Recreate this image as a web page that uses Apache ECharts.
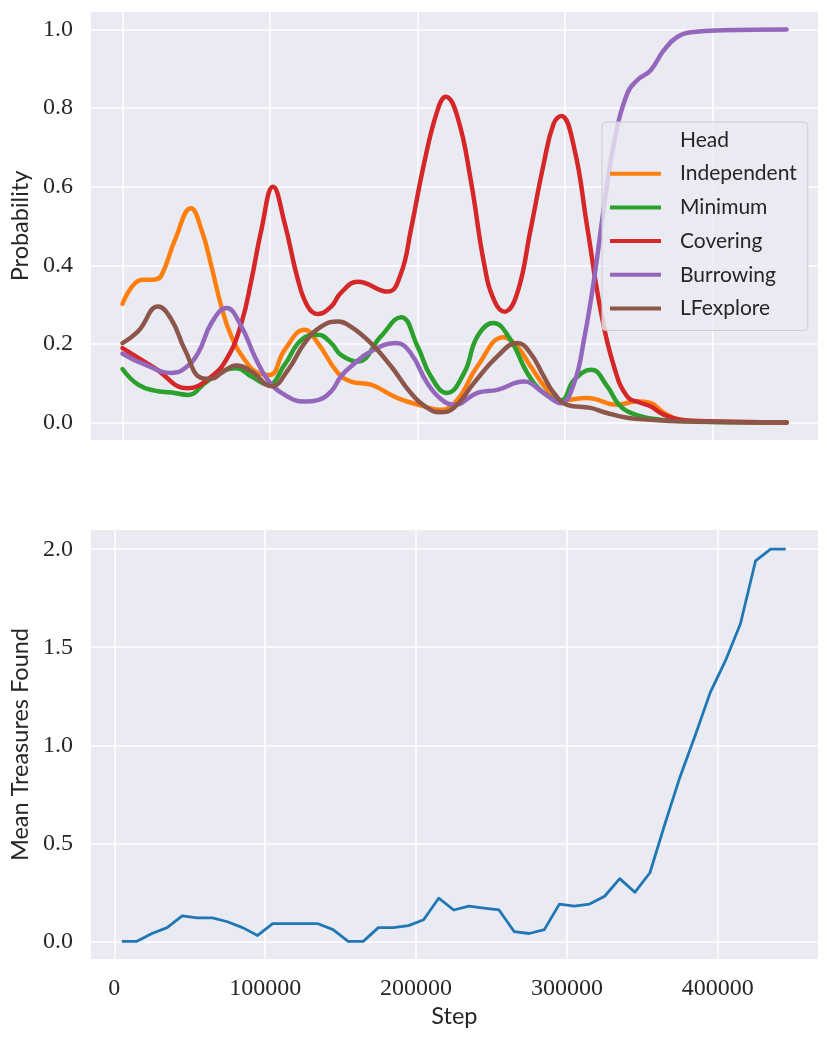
<!DOCTYPE html>
<html>
<head>
<meta charset="utf-8">
<script src="https://cdn.jsdelivr.net/npm/echarts@6/dist/echarts.min.js"></script>
<style>
html, body { margin: 0; padding: 0; background: #fff; }
#chart { width: 830px; height: 1040px; }
</style>
</head>
<body>
<div id="chart"></div>
<script>
// top panel: probability of each head over training steps
var heads = ['Independent', 'Minimum', 'Covering', 'Burrowing', 'LFexplore'];
var head_colors = ['#ff7f0e', '#2ca02c', '#d62728', '#9467bd', '#8c564b'];

var indep_x = [0, 13000, 22000, 26500, 35500, 46400, 53600, 60300, 67000, 73800, 82900, 91900, 99800, 109900, 123400, 132400, 146000, 155000, 168500, 186500, 204400, 215700, 227000, 240500, 258400, 267500, 276500, 287700, 297000, 314900, 335200, 348700, 357800, 366800, 378000, 396000, 450000];
var indep_y = [0.302, 0.363, 0.364, 0.375, 0.464, 0.545, 0.49, 0.397, 0.295, 0.219, 0.159, 0.126, 0.121, 0.185, 0.236, 0.202, 0.126, 0.104, 0.096, 0.062, 0.041, 0.032, 0.058, 0.143, 0.217, 0.193, 0.143, 0.084, 0.056, 0.062, 0.045, 0.054, 0.05, 0.025, 0.007, 0.002, 0];

var minim_x = [0, 10600, 22000, 33300, 44600, 55800, 67000, 77200, 87400, 98600, 109900, 121200, 132400, 141400, 148000, 159400, 175100, 188700, 200000, 209000, 219800, 231500, 240500, 251300, 263000, 274300, 285500, 297000, 306000, 317700, 328500, 337500, 351000, 364500, 380000, 400000, 450000];
var minim_y = [0.136, 0.096, 0.081, 0.076, 0.07, 0.1, 0.13, 0.138, 0.117, 0.096, 0.147, 0.21, 0.223, 0.202, 0.172, 0.155, 0.219, 0.268, 0.193, 0.117, 0.075, 0.126, 0.219, 0.253, 0.21, 0.126, 0.075, 0.056, 0.108, 0.134, 0.092, 0.041, 0.016, 0.007, 0.003, 0.001, 0];

var cover_x = [0, 22000, 44000, 60300, 71600, 80600, 87400, 94100, 102000, 109900, 118900, 125600, 132400, 141400, 148000, 159400, 179700, 188700, 195400, 204400, 213500, 219100, 227000, 236000, 245000, 251700, 258900, 267500, 276500, 285500, 292200, 297300, 305900, 314900, 324000, 333000, 342000, 351000, 357800, 366800, 378000, 396000, 450000];
var cover_y = [0.189, 0.138, 0.087, 0.117, 0.168, 0.253, 0.363, 0.49, 0.6, 0.507, 0.363, 0.295, 0.276, 0.295, 0.33, 0.358, 0.333, 0.379, 0.49, 0.66, 0.795, 0.829, 0.778, 0.617, 0.405, 0.312, 0.282, 0.329, 0.49, 0.66, 0.761, 0.78, 0.702, 0.498, 0.286, 0.143, 0.066, 0.05, 0.041, 0.02, 0.007, 0.003, 0];

var burrow_x = [0, 15300, 33300, 42300, 51300, 60300, 70500, 80600, 89600, 98600, 109900, 123400, 132400, 141400, 148000, 155000, 168500, 185400, 195400, 206600, 217900, 224600, 240500, 254000, 272000, 285500, 297000, 306000, 312700, 319500, 326300, 333000, 342000, 348800, 357800, 366800, 375900, 387100, 407400, 450000];
var burrow_y = [0.175, 0.147, 0.126, 0.138, 0.177, 0.253, 0.291, 0.244, 0.168, 0.108, 0.07, 0.053, 0.057, 0.079, 0.117, 0.143, 0.181, 0.202, 0.176, 0.1, 0.053, 0.045, 0.075, 0.083, 0.104, 0.075, 0.049, 0.1, 0.21, 0.363, 0.549, 0.71, 0.837, 0.871, 0.896, 0.947, 0.981, 0.994, 0.998, 1.0];

var lfexp_x = [0, 10600, 24100, 33300, 42300, 53600, 60300, 67000, 77200, 87400, 101000, 112200, 123400, 134600, 146000, 155000, 168500, 182000, 195400, 206600, 215200, 224600, 238100, 254000, 267500, 276500, 285500, 292300, 301300, 317100, 328300, 342000, 357800, 378000, 450000];
var lfexp_y = [0.202, 0.232, 0.295, 0.261, 0.185, 0.113, 0.111, 0.126, 0.145, 0.13, 0.092, 0.134, 0.202, 0.244, 0.257, 0.243, 0.201, 0.143, 0.075, 0.037, 0.026, 0.037, 0.1, 0.168, 0.202, 0.176, 0.117, 0.075, 0.045, 0.037, 0.024, 0.012, 0.007, 0.003, 0];

// bottom panel: mean treasures found
var steps = [5000, 15000, 25000, 35000, 45000, 55000, 65000, 75000, 85000, 95000,
	105000, 115000, 125000, 135000, 145000, 155000, 165000, 175000, 185000, 195000,
	205000, 215000, 225000, 235000, 245000, 255000, 265000, 275000, 285000, 295000,
	305000, 315000, 325000, 335000, 345000, 355000, 365000, 375000, 385000, 395000,
	405000, 415000, 425000, 435000, 445000];
var treasures = [0, 0, 0.04, 0.07, 0.13, 0.12, 0.12, 0.10, 0.07, 0.03,
	0.09, 0.09, 0.09, 0.09, 0.06, 0, 0, 0.07, 0.07, 0.08,
	0.11, 0.22, 0.16, 0.18, 0.17, 0.16, 0.05, 0.04, 0.06, 0.19,
	0.18, 0.19, 0.23, 0.32, 0.25, 0.35, 0.60, 0.84, 1.05, 1.27,
	1.43, 1.62, 1.94, 2.0, 2.0];

var x_ticks = [0, 100000, 200000, 300000, 400000];
var prob_ticks = [0, 0.2, 0.4, 0.6, 0.8, 1.0];
var treasure_ticks = [0, 0.5, 1.0, 1.5, 2.0];

var serif = "'Liberation Serif', 'DejaVu Serif', serif";
var sans = "Lato, 'Noto Sans', sans-serif";
var ink = '#262626';

function pairs(xs, ys) {
	var out = [];
	for (var i = 0; i < xs.length; i++) out.push([xs[i], ys[i]]);
	return out;
}

function x_axis(grid, min, max, show_labels, name) {
	return {
		type: 'value', gridIndex: grid, min: min, max: max,
		axisLine: {show: false},
		axisTick: {show: false, customValues: x_ticks},
		axisLabel: {show: show_labels, customValues: x_ticks, color: ink, fontFamily: serif, fontSize: 24, margin: 18,
			formatter: function (v) { return String(v); }},
		splitLine: {show: true, lineStyle: {color: '#ffffff', width: 1.5}},
		name: name, nameLocation: 'middle', nameGap: 45,
		nameTextStyle: {color: ink, fontFamily: sans, fontSize: 23.5}
	};
}

function y_axis(grid, min, max, ticks, name) {
	return {
		type: 'value', gridIndex: grid, min: min, max: max,
		axisLine: {show: false},
		axisTick: {show: false, customValues: ticks},
		axisLabel: {customValues: ticks, color: ink, fontFamily: serif, fontSize: 24, margin: 18,
			formatter: function (v) { return v.toFixed(1); }},
		splitLine: {show: true, lineStyle: {color: '#ffffff', width: 1.5}},
		name: name, nameLocation: 'middle', nameGap: 57,
		nameTextStyle: {color: ink, fontFamily: sans, fontSize: 23.5}
	};
}

var head_data = [indep_x, minim_x, cover_x, burrow_x, lfexp_x];
var head_vals = [indep_y, minim_y, cover_y, burrow_y, lfexp_y];

var series = [{
	name: 'Head', type: 'line', xAxisIndex: 0, yAxisIndex: 0, data: [],
	itemStyle: {color: 'rgba(0,0,0,0)'}, lineStyle: {color: 'rgba(0,0,0,0)'}
}];
for (var k = 0; k < heads.length; k++) {
	series.push({
		name: heads[k], type: 'line', xAxisIndex: 0, yAxisIndex: 0,
		data: pairs(head_data[k], head_vals[k]),
		smooth: 0.45, symbol: 'none', silent: true,
		itemStyle: {color: head_colors[k]},
		lineStyle: {color: head_colors[k], width: 4.5, cap: 'round', join: 'round'}
	});
}
series.push({
	name: 'treasures', type: 'line', xAxisIndex: 1, yAxisIndex: 1,
	data: pairs(steps, treasures), symbol: 'none', silent: true,
	lineStyle: {color: '#1f77b4', width: 2.8, join: 'round'}
});

var legend_data = [{name: 'Head', itemStyle: {color: 'rgba(0,0,0,0)'}}].concat(heads);

var myChart = echarts.init(document.getElementById('chart'), null, {renderer: 'canvas'});
myChart.setOption({
	animation: false,
	backgroundColor: '#ffffff',
	grid: [
		{left: 89, right: 12, top: 12, height: 428, show: true, backgroundColor: '#eaeaf2', borderWidth: 0},
		{left: 89, right: 12, top: 530, height: 429, show: true, backgroundColor: '#eaeaf2', borderWidth: 0}
	],
	xAxis: [
		x_axis(0, -21400, 471300, false, ''),
		x_axis(1, -15500, 466400, true, 'Step')
	],
	yAxis: [
		y_axis(0, -0.0447, 1.0447, prob_ticks, 'Probability'),
		y_axis(1, -0.09, 2.098, treasure_ticks, 'Mean Treasures Found')
	],
	legend: {
		orient: 'vertical', left: 602, top: 122,
		data: legend_data,
		icon: 'rect', itemWidth: 51, itemHeight: 4, itemGap: 11.7,
		padding: [7, 11, 11, 8],
		backgroundColor: 'rgba(234,234,242,0.8)', borderColor: '#cccccc', borderWidth: 1, borderRadius: 4,
		selectedMode: false,
		textStyle: {color: ink, fontFamily: sans, fontSize: 21, lineHeight: 22, padding: [0, 0, 0, 14]}
	},
	series: series
});
</script>
</body>
</html>
